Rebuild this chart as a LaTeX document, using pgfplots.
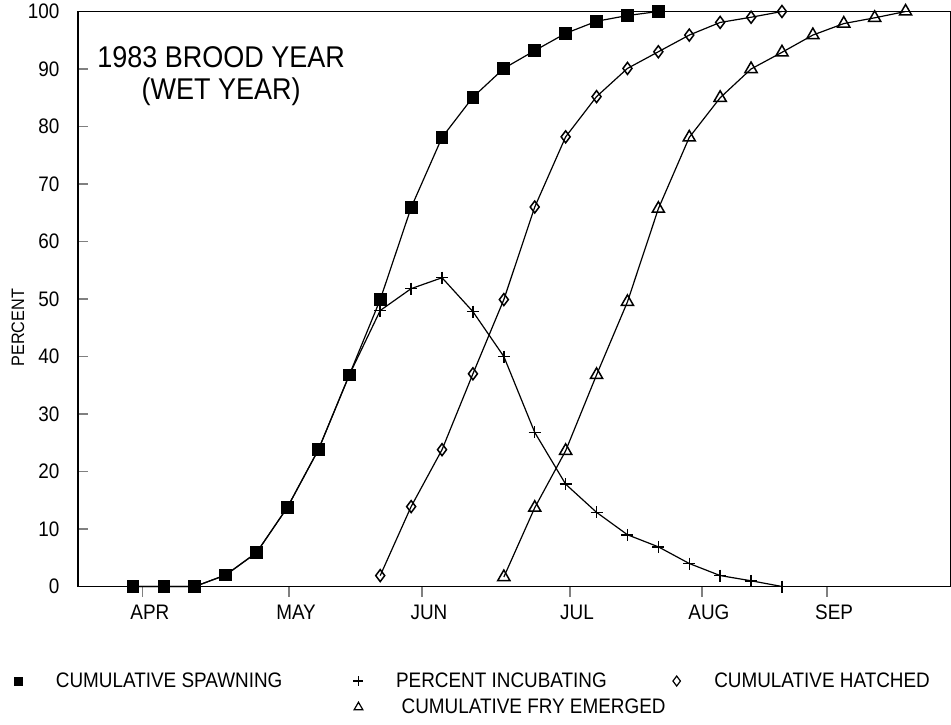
\documentclass[border=0pt]{standalone}
\usepackage{fontspec}
\setmainfont{Liberation Sans}[FakeStretch=0.9]
\usepackage{pgfplots}
\pgfplotsset{compat=1.18}

\begin{document}
\begin{tikzpicture}
\useasboundingbox (-78pt,-137.5pt) rectangle (873pt,586.5pt);
\begin{axis}[
  at={(0,0)}, anchor=south west,
  scale only axis, width=873pt, height=575pt,
  xmin=-1.78, xmax=26.47, ymin=0, ymax=100,
  axis line style={line width=1.4pt},
  tick pos=left, tick align=inside,
  major tick length=10pt,
  xtick={0.32,5.05,9.35,14.14,18.41,22.46},
  xticklabels={APR,MAY,JUN,JUL,AUG,SEP},
  xtick style={line width=1.2pt, yshift=-10pt},
  ytick={0,10,...,100},
  ytick style={line width=1.2pt},
  /pgf/number format/assume math mode=true,
  yticklabel style={font=\fontsize{21}{21}\selectfont, xshift=-15pt},
  xticklabel style={font=\fontsize{21}{21}\selectfont, xshift=7pt, yshift=-15pt},
  ylabel={PERCENT},
  ylabel style={font=\fontsize{18}{18}\selectfont, at={(axis description cs:-0.0687,0.45)}, anchor=center},
  clip=false,
  legend columns=3,
  legend style={draw=none, fill=none, inner sep=0pt, outer sep=0pt,
    at={(axis description cs:-0.0739,-0.1504)}, anchor=north west,
    font=\fontsize{21}{21}\selectfont, column sep=0pt, row sep=10pt,
    nodes={inner sep=0pt},
    /tikz/every odd column/.append style={column sep=32pt}},
  legend image code/.code={\path (-5pt,0pt) (5pt,0pt); \draw[#1] plot coordinates {(0pt,0pt)};},
]

% percent incubating
\addplot[forget plot, black, line width=1.2pt, mark=+, mark size=6pt, mark options={line width=1.5pt}] coordinates {
  (0,0) (1,0) (2,0) (3,2.0) (4,5.9) (5,13.8) (6,23.8) (7,36.8) (8,48.0) (9,51.8)
  (10,53.7) (11,47.8) (12,40.0) (13,26.8) (14,17.8) (15,12.9) (16,9.0) (17,6.9)
  (18,4.0) (19,1.9) (20,1.0) (21,0)
};

% cumulative hatched
\addplot[forget plot, black, line width=1.2pt, mark=diamond, mark size=6pt, mark options={line width=1.5pt, fill=white}] coordinates {
  (8,1.9) (9,13.9) (10,23.8) (11,37.0) (12,49.9) (13,66.0) (14,78.2) (15,85.2)
  (16,90.1) (17,93.0) (18,95.9) (19,98.1) (20,99.0) (21,100)
};

% cumulative fry emerged
\addplot[forget plot, black, line width=1.2pt, mark=triangle, mark size=7pt, mark options={line width=1.5pt, fill=white}] coordinates {
  (12,1.65) (13,13.7) (14,23.6) (15,36.8) (16,49.5) (17,65.7) (18,78.1) (19,85.0)
  (20,90.0) (21,92.9) (22,95.9) (23,97.9) (24,98.9) (25,100)
};

% cumulative spawning
\addplot[forget plot, black, line width=1.2pt, mark=square*, mark size=5.8pt] coordinates {
  (0,0) (1,0) (2,0) (3,2.0) (4,5.9) (5,13.8) (6,23.8) (7,36.8) (8,49.9) (9,65.9)
  (10,78.1) (11,85.1) (12,90.1) (13,93.2) (14,96.2) (15,98.3) (16,99.3) (17,100)
};

\node[anchor=north, align=center, inner sep=0pt, font=\fontsize{30}{32}\selectfont]
  at (axis cs:2.85,94) {1983 BROOD YEAR\\(WET YEAR)};

\addlegendimage{black, mark=square*, mark size=4pt}
\addlegendentry{\makebox[297pt][l]{CUMULATIVE SPAWNING}}
\addlegendimage{black, mark=+, mark size=5pt, line width=1.2pt}
\addlegendentry{\makebox[275pt][l]{PERCENT INCUBATING}}
\addlegendimage{black, mark=diamond, mark size=5pt, line width=1.2pt}
\addlegendentry{CUMULATIVE HATCHED}
\addlegendimage{empty legend}
\addlegendentry{}
\addlegendimage{black, mark=triangle, mark size=5pt, line width=1.2pt}
\addlegendentry{CUMULATIVE FRY EMERGED}
\end{axis}
\end{tikzpicture}
\end{document}
